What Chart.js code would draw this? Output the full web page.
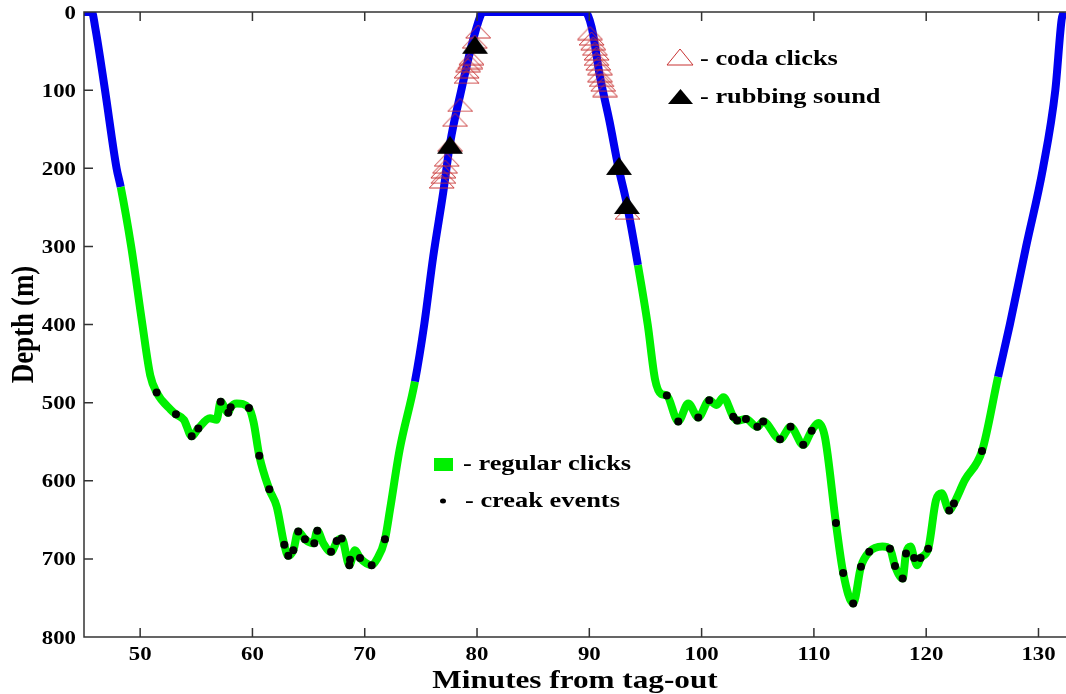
<!DOCTYPE html>
<html>
<head>
<meta charset="utf-8">
<script src="https://cdn.jsdelivr.net/npm/chart.js@4.4.1/dist/chart.umd.min.js"></script>
<style>
  html, body { margin: 0; padding: 0; background: #fff; overflow: hidden; }
  #wrap { width: 1066px; height: 694px; }
</style>
</head>
<body>
<div id="wrap"><canvas id="dive" width="1066" height="694"></canvas></div>
<script>
// dive track (minutes from tag-out, depth in m)
const trackTime = [45.0, 45.7, 46.0, 46.87, 47.9, 48.27, 49.2, 50.2, 50.9, 51.47, 52.72, 53.19, 53.9, 54.59,
  55.18, 56.22, 56.81, 57.17, 57.85, 58.06, 58.6, 59.69, 60.1, 60.61, 61.5, 62.16, 62.84, 63.19, 63.64, 64.08,
  64.68, 65.42, 65.78, 66.31, 67.0, 67.56, 67.95, 68.63, 69.13, 69.58, 70.62, 71.06, 71.8, 72.25, 73.1, 74.47,
  75.3, 76.1, 77.0, 77.6, 78.6, 79.5, 80.3, 80.5, 89.6, 90.2, 90.95, 91.8, 92.58, 93.33, 94.33,
  95.2, 95.85, 96.4, 96.9, 97.92, 98.81, 99.7, 100.68, 101.33, 101.93, 102.82, 103.17, 103.95, 104.96, 105.49,
  106.98, 107.92, 109.05, 109.8, 110.39, 110.98, 111.96, 112.61, 113.5, 114.19, 114.93, 116.1, 116.77, 117.22,
  117.9, 118.2, 118.6, 118.93, 119.2, 119.5, 120.18, 120.87, 121.37, 122.05, 122.47, 123.45, 124.97, 126.4,
  127.45, 128.9, 130.4, 131.5, 132.06, 132.25];
const trackDepth = [0, 0, 20, 100, 200, 224, 300, 400, 465, 487, 509, 515, 522, 543,
  533, 520, 522, 499, 513, 506, 501, 507, 525, 568, 611, 633, 682, 696, 689, 665,
  675, 680, 664, 680, 691, 677, 674, 708, 689, 699, 708, 701, 675, 637, 561, 473,
  400, 313, 230, 168, 100, 44, 5, 0, 0, 19, 83, 140, 198, 245, 324,
  400, 470, 489, 491, 524, 501, 519, 497, 503, 493, 518, 523, 521, 531, 524,
  547, 531, 554, 536, 526, 544, 654, 718, 757, 710, 691, 684, 687, 709,
  725, 693, 684, 699, 708, 699, 687, 625, 616, 638, 629, 599, 562, 467,
  400, 300, 200, 100, 10, 0];

// stretches with regular clicks (green)
const clickStart = [48.27, 94.33];
const clickEnd = [74.47, 126.4];

// creak events
const creakTime = [51.47, 53.19, 54.59, 55.18, 57.17, 57.85, 58.06, 59.69, 60.61, 61.5, 62.84, 63.19, 63.64, 64.08,
  64.68, 65.51, 65.78, 67.0, 67.5, 67.95, 68.63, 68.69, 69.58, 70.62, 71.8,
  96.9, 97.92, 99.7, 100.68, 102.82, 103.17, 103.95, 104.96, 105.49, 106.98, 107.92, 109.05, 109.8,
  111.96, 112.61, 113.5, 114.19, 114.93, 116.77, 117.22, 117.9, 118.2, 118.93, 119.5, 120.18, 122.05, 122.47, 124.97];
const creakDepth = [487, 515, 543, 533, 499, 513, 506, 507, 568, 611, 682, 696, 689, 665,
  675, 680, 664, 691, 677, 674, 708, 701, 699, 708, 675,
  491, 524, 519, 497, 518, 523, 521, 531, 524, 547, 531, 554, 536,
  654, 718, 757, 710, 691, 687, 709, 725, 693, 699, 699, 687, 638, 629, 562];

// coda clicks
const codaTime = [80.1, 79.8, 79.5, 79.4, 79.2, 79.07, 79.07, 78.5, 78.04, 77.6, 77.3, 77.15, 77.0, 77.0, 76.85,
  90.06, 90.2, 90.35, 90.5, 90.65, 90.65, 90.8, 90.95, 90.95, 91.1, 91.24, 91.4, 93.4];
const codaDepth = [25, 38, 59, 64, 68, 76, 83, 119, 138, 170, 189, 198, 204, 211, 217,
  27, 34, 40, 47, 53, 60, 66, 72, 81, 87, 93, 100, 257];

// rubbing sounds
const rubTime = [79.82, 77.59, 92.64, 93.35];
const rubDepth = [42, 170, 197, 247];

const xTicks = [50, 60, 70, 80, 90, 100, 110, 120, 130];
const yTicks = [0, 100, 200, 300, 400, 500, 600, 700, 800];

const BLUE = '#0000f0';
const GREEN = '#00f000';
const SERIF = '"Liberation Serif", "Times New Roman", serif';
const STRETCH = 1.2; // the original figure is wider than tall in its lettering

const pts = (xs, ys) => xs.map((x, i) => ({ x, y: ys[i] }));
const inClicks = (a, b) => clickStart.some((s, i) => a >= s && b <= clickEnd[i]);

function triangleImage(w, h, fill, stroke) {
    const c = document.createElement('canvas');
    c.width = w + 2; c.height = h + 2;
    const g = c.getContext('2d');
    g.beginPath();
    g.moveTo(1 + w / 2, 1);
    g.lineTo(1 + w, 1 + h);
    g.lineTo(1, 1 + h);
    g.closePath();
    if (fill) { g.fillStyle = fill; g.fill(); }
    if (stroke) { g.strokeStyle = stroke; g.lineWidth = 1; g.stroke(); }
    return c;
}
const codaMark = triangleImage(25, 13, null, '#c83232');
const rubMark = triangleImage(26, 18, '#000', null);

function wideText(ctx, text, x, y, align, size) {
    ctx.save();
    ctx.font = 'bold ' + size + 'px ' + SERIF;
    ctx.textAlign = align;
    ctx.textBaseline = 'alphabetic';
    ctx.translate(x, y);
    ctx.scale(STRETCH, 1);
    ctx.fillText(text, 0, 0);
    ctx.restore();
}

// axes frame, inward ticks, tick labels and axis titles
const frame = {
    id: 'frame',
    afterDraw(chart) {
        const { ctx, chartArea: a, scales: { x, y } } = chart;
        ctx.save();
        ctx.strokeStyle = '#333';
        ctx.lineWidth = 1.5;
        ctx.beginPath();
        ctx.moveTo(a.right + 2, a.top);
        ctx.lineTo(a.left, a.top);
        ctx.lineTo(a.left, a.bottom);
        ctx.lineTo(a.right + 2, a.bottom);
        xTicks.forEach(v => {
            const px = x.getPixelForValue(v);
            ctx.moveTo(px, a.bottom); ctx.lineTo(px, a.bottom - 9);
            ctx.moveTo(px, a.top); ctx.lineTo(px, a.top + 9);
        });
        yTicks.forEach(v => {
            const py = y.getPixelForValue(v);
            ctx.moveTo(a.left, py); ctx.lineTo(a.left + 9, py);
        });
        ctx.stroke();

        ctx.fillStyle = '#000';
        xTicks.forEach(v => wideText(ctx, String(v), x.getPixelForValue(v), a.bottom + 23, 'center', 19));
        yTicks.forEach(v => wideText(ctx, String(v), a.left - 8, y.getPixelForValue(v) + 6.5, 'right', 19));
        wideText(ctx, 'Minutes from tag-out', (a.left + a.right) / 2, 688, 'center', 26);

        // vertical title: glyphs widened across, length unchanged
        ctx.save();
        ctx.font = 'bold 27px ' + SERIF;
        ctx.textAlign = 'center';
        ctx.textBaseline = 'alphabetic';
        ctx.translate(33, (a.top + a.bottom) / 2);
        ctx.scale(STRETCH, 1);
        ctx.rotate(-Math.PI / 2);
        ctx.fillText('Depth (m)', 0, 0);
        ctx.restore();
        ctx.restore();
    }
};

// legend keys written inside the plot
const keys = {
    id: 'keys',
    afterDraw(chart) {
        const ctx = chart.ctx;
        ctx.save();
        ctx.fillStyle = '#000';
        ctx.drawImage(triangleImage(26, 16, null, '#c83232'), 666, 48);
        wideText(ctx, '- coda clicks', 700, 65, 'left', 22);
        ctx.drawImage(triangleImage(25, 15, '#000', null), 667, 88);
        wideText(ctx, '- rubbing sound', 700, 103, 'left', 22);
        ctx.fillStyle = GREEN;
        ctx.fillRect(434, 458, 19, 13);
        ctx.fillStyle = '#000';
        wideText(ctx, '- regular clicks', 463, 470, 'left', 22);
        ctx.beginPath();
        ctx.ellipse(443, 501, 3, 2.5, 0, 0, Math.PI * 2);
        ctx.fill();
        wideText(ctx, '- creak events', 465, 507, 'left', 22);
        ctx.restore();
    }
};

new Chart(document.getElementById('dive'), {
    type: 'line',
    data: {
        datasets: [
            {
                data: pts(creakTime, creakDepth), showLine: false,
                pointStyle: 'circle', pointRadius: 4, pointBackgroundColor: '#000', pointBorderWidth: 0, order: 3
            },
            {
                data: pts(rubTime, rubDepth), showLine: false,
                pointStyle: rubMark, order: 1
            },
            {
                data: pts(codaTime, codaDepth), showLine: false,
                pointStyle: codaMark, order: 2
            },
            {
                data: pts(trackTime, trackDepth), pointRadius: 0, borderWidth: 8,
                borderColor: BLUE, cubicInterpolationMode: 'monotone', order: 10,
                segment: { borderColor: c => inClicks(c.p0.parsed.x, c.p1.parsed.x) ? GREEN : BLUE }
            }
        ]
    },
    options: {
        responsive: false,
        animation: false,
        devicePixelRatio: 1,
        layout: { autoPadding: false, padding: { top: 12, right: 0, left: 0, bottom: 0 } },
        plugins: { legend: { display: false }, tooltip: { enabled: false } },
        scales: {
            x: {
                type: 'linear', min: 45, max: 132.45,
                afterFit: s => { s.height = 57; s.paddingLeft = 0; s.paddingRight = 0; },
                grid: { display: false }, border: { display: false },
                ticks: { display: false, stepSize: 10 }
            },
            y: {
                type: 'linear', reverse: true, min: 0, max: 800,
                afterFit: s => { s.width = 84; s.paddingTop = 0; s.paddingBottom = 0; },
                grid: { display: false }, border: { display: false },
                ticks: { display: false, stepSize: 100 }
            }
        }
    },
    plugins: [frame, keys]
});
</script>
</body>
</html>
